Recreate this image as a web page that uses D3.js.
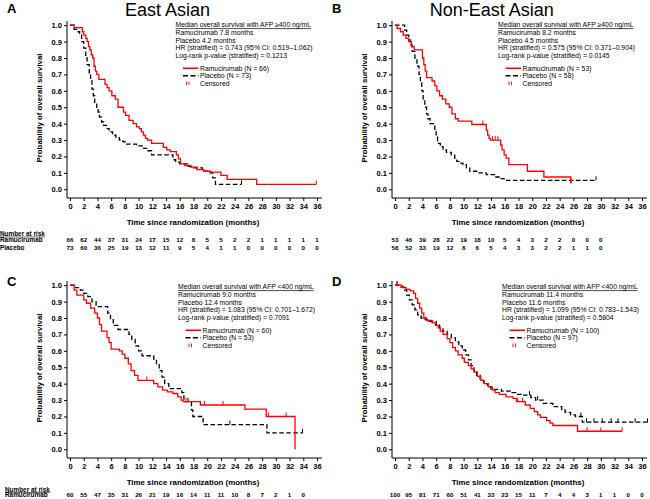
<!DOCTYPE html>
<html><head><meta charset="utf-8">
<script src="https://cdn.jsdelivr.net/npm/d3@7"></script>
<style>
html,body{margin:0;padding:0;background:#fff;}
svg{display:block;font-family:"Liberation Sans",Arial,sans-serif;}
</style></head>
<body>
<svg id="chart" width="650" height="499"></svg>
<script>
// ---------- data ----------
const xTickVals = [0,2,4,6,8,10,12,14,16,18,20,22,24,26,28,30,32,34,36];
const yTickVals = [0,0.1,0.2,0.3,0.4,0.5,0.6,0.7,0.8,0.9,1.0];

// Panel A: East Asian, AFP >=400
const aRamT = [0,0.6,1.8,2.0,2.3,2.5,2.7,2.9,3.1,3.3,3.5,3.7,3.9,4.2,5.1,5.4,5.7,6.1,6.6,7.0,7.8,8.1,8.6,9.2,9.7,10.1,10.4,10.7,11.0,11.3,11.9,13.6,14.1,14.6,15.5,15.8,16.1,16.7,17.6,18.5,19.5,20.5,22.0,22.9,27.2];
const aRamS = [1,0.985,0.96,0.94,0.92,0.90,0.87,0.85,0.82,0.80,0.75,0.72,0.70,0.67,0.64,0.62,0.60,0.57,0.55,0.50,0.47,0.45,0.42,0.40,0.38,0.37,0.35,0.33,0.31,0.30,0.28,0.255,0.24,0.23,0.21,0.185,0.155,0.145,0.135,0.12,0.11,0.105,0.085,0.06,0.03];
const aRamEnd = 35.9;
const aPlaT = [0,0.6,1.0,1.4,1.7,2.0,2.3,2.5,2.8,3.0,3.2,3.4,3.6,3.9,4.1,4.3,4.6,4.9,5.3,5.7,6.2,6.7,7.2,7.7,8.0,9.7,10.5,11.2,11.9,15.0,15.4,16.0,17.2,17.7,19.3,20.2,20.8,21.2];
const aPlaS = [1,0.975,0.96,0.94,0.90,0.86,0.80,0.76,0.71,0.66,0.61,0.57,0.53,0.50,0.47,0.44,0.41,0.39,0.37,0.35,0.33,0.315,0.30,0.29,0.275,0.265,0.25,0.235,0.21,0.18,0.165,0.155,0.14,0.13,0.11,0.10,0.07,0.03];
const aPlaEnd = 25.0;
const aRamCens = [35.9];
const aPlaCens = [25.0];
const aRamN = [66,62,44,37,31,24,17,15,12,8,5,5,2,2,1,1,1,1,1];
const aPlaN = [73,60,36,25,19,13,12,11,9,5,4,1,1,0,0,0,0,0,0];

// Panel B: Non-East Asian, AFP >=400
const bRamT = [0,0.3,0.8,1.2,1.6,2.0,2.4,2.8,4.0,4.2,4.4,4.6,5.4,5.8,6.1,6.5,6.9,7.4,7.9,8.3,8.8,9.2,11.2,13.3,13.5,13.7,13.9,15.4,15.6,15.9,16.2,16.6,19.3,21.7,25.6];
const bRamS = [1,0.98,0.96,0.94,0.92,0.90,0.87,0.85,0.80,0.76,0.72,0.68,0.66,0.63,0.60,0.57,0.55,0.52,0.50,0.46,0.43,0.415,0.395,0.36,0.33,0.31,0.30,0.27,0.24,0.21,0.19,0.15,0.11,0.075,0.04];
const bRamEnd = 25.7;
const bPlaT = [0,1.4,1.7,2.0,2.2,2.5,2.9,3.2,3.5,3.7,3.9,4.1,4.35,4.6,4.8,5.1,5.8,6.0,6.2,6.6,7.0,7.5,8.2,8.7,9.0,9.3,9.9,10.4,10.9,11.9,13.3,14.5,15.3,15.9];
const bPlaS = [1,0.97,0.94,0.91,0.88,0.84,0.80,0.75,0.70,0.65,0.60,0.55,0.50,0.46,0.43,0.40,0.36,0.32,0.28,0.26,0.24,0.225,0.21,0.19,0.17,0.16,0.15,0.13,0.11,0.10,0.09,0.075,0.065,0.055];
const bPlaEnd = 29.3;
const bRamCens = [12.8,14.2,14.6,15.0,25.7];
const bPlaCens = [29.3];
const bRamN = [53,46,39,28,22,19,18,10,5,4,3,2,2,0,0,0];
const bPlaN = [58,52,33,19,12,8,6,5,4,3,3,2,2,1,1,0];

// Panel C: East Asian, AFP <400
const cRamT = [0,0.6,1.0,2.0,2.4,3.0,3.6,4.0,4.3,4.6,5.4,5.7,6.0,7.2,7.6,8.0,8.5,8.9,9.4,9.9,12.2,12.8,13.5,14.2,15.0,15.7,16.2,16.5,19.0,25.5,28.6,32.8];
const cRamS = [1,0.97,0.94,0.91,0.89,0.86,0.83,0.80,0.76,0.72,0.68,0.65,0.61,0.60,0.58,0.555,0.52,0.48,0.45,0.42,0.40,0.38,0.36,0.35,0.34,0.32,0.30,0.29,0.27,0.245,0.20,0.0];
const cRamEnd = 32.8;
const cPlaT = [0,0.8,1.5,2.0,2.6,3.2,3.8,5.5,5.9,6.3,7.0,8.6,9.0,9.5,10.0,10.5,12.2,12.6,13.0,13.4,13.8,14.4,16.3,16.6,17.7,17.9,19.4,28.7];
const cPlaS = [1,0.985,0.97,0.95,0.93,0.90,0.87,0.83,0.79,0.755,0.73,0.70,0.67,0.63,0.60,0.57,0.55,0.52,0.48,0.44,0.40,0.37,0.345,0.29,0.24,0.20,0.15,0.10];
const cPlaEnd = 33.9;
const cRamCens = [11.2,16.9,19.6,22.3,28.9,31.5];
const cPlaCens = [17.2,23.3,33.9];
const cRamN = [60,55,47,35,31,26,21,19,16,14,11,11,10,8,7,2,1,0];

// Panel D: Non-East Asian, AFP <400
const dRamT = [0,1.0,1.6,2.2,2.7,3.0,3.3,3.6,3.9,4.2,4.6,5.4,5.9,6.3,6.6,7.0,7.6,8.0,8.4,8.8,9.2,9.8,10.1,10.7,11.1,11.5,12.0,12.5,13.0,13.6,14.2,14.6,15.2,16.2,17.2,17.7,19.0,19.7,20.3,20.8,21.2,22.1,22.6,23.0,26.6];
const dRamS = [1,0.985,0.975,0.965,0.95,0.92,0.89,0.86,0.83,0.80,0.785,0.77,0.755,0.74,0.72,0.70,0.675,0.65,0.62,0.60,0.575,0.555,0.53,0.51,0.49,0.47,0.445,0.42,0.40,0.38,0.36,0.345,0.335,0.32,0.31,0.29,0.27,0.25,0.23,0.21,0.195,0.175,0.16,0.145,0.11];
const dRamEnd = 33.1;
const dPlaT = [0,0.8,1.3,1.7,2.1,2.5,2.9,3.3,3.8,4.4,5.0,6.0,6.5,7.0,7.6,8.2,8.8,9.3,9.8,10.3,10.7,11.1,11.5,11.9,12.4,12.9,13.5,14.0,15.5,16.8,17.6,18.4,19.8,20.5,21.6,23.0,24.3,24.8,25.6,26.3,27.3];
const dPlaS = [1,0.99,0.97,0.94,0.91,0.88,0.85,0.82,0.80,0.79,0.78,0.76,0.74,0.72,0.70,0.68,0.655,0.63,0.605,0.575,0.545,0.51,0.48,0.45,0.42,0.40,0.38,0.365,0.355,0.345,0.335,0.33,0.315,0.30,0.28,0.26,0.24,0.225,0.21,0.20,0.165];
const dPlaEnd = 36.8;
const dRamCens = [0.3,17.9,18.6,28.0,30.0,33.1];
const dPlaCens = [0.3,19.6,20.8,27.1,27.9,29.0,30.2,31.5,32.5,35.0,36.8];
const dRamN = [100,95,81,71,60,51,41,33,23,15,11,7,4,4,3,1,1,0,0];

const titles = ["East Asian","Non-East Asian"];
const letters = ["A","B","C","D"];
const legendHeaders = ["Median overall survival with AFP \u2265400  ng/mL","Median overall survival with AFP \u2265400  ng/mL","Median overall survival with AFP <400  ng/mL","Median overall survival with AFP <400  ng/mL"];
const legendLines = [
  ["Ramucirumab  7.8 months","Placebo  4.2 months","HR (stratified) = 0.743  (95% CI: 0.519\u20131.062)","Log-rank p-value (stratified) = 0.1213"],
  ["Ramucirumab  8.2 months","Placebo  4.5 months","HR (stratified) = 0.575  (95% CI: 0.371\u20130.904)","Log-rank p-value (stratified) = 0.0145"],
  ["Ramucirumab  9.0 months","Placebo  12.4 months","HR (stratified) = 1.083  (95% CI: 0.701\u20131.672)","Log-rank p-value (stratified) = 0.7091"],
  ["Ramucirumab  11.4 months","Placebo  11.6 months","HR (stratified) = 1.099  (95% CI: 0.783\u20131.543)","Log-rank p-value (stratified) = 0.5804"]
];
const seriesLabels = [
  ["Ramucirumab  (N = 66)","Placebo  (N = 73)"],
  ["Ramucirumab  (N = 53)","Placebo  (N = 58)"],
  ["Ramucirumab  (N = 60)","Placebo  (N = 53)"],
  ["Ramucirumab  (N = 100)","Placebo  (N = 97)"]
];
const censoredLabel = "Censored";
const xTitle = "Time since randomization (months)";
const yTitle = "Probability of overall survival";
const riskTitle = "Number at risk";
const riskRowLabels = ["Ramucirumab","Placebo"];

// ---------- layout (positions / styles) ----------
const RED = "#ff0000";
const FONT = "'Liberation Sans', Arial, sans-serif";
const layout = [
  {ox:0,   oy:0,   legX:175.5, legY:25, title:true,  rowLabels:true,  riskLabelX:0, riskTitleY:236.0, riskRowY:242.4},
  {ox:325, oy:0,   legX:173,   legY:25, title:true,  rowLabels:false, riskLabelX:0, riskTitleY:236.0, riskRowY:242.4},
  {ox:0,   oy:260, legX:178,   legY:27, title:false, rowLabels:true,  riskLabelX:5, riskTitleY:231.6, riskRowY:237.2},
  {ox:325, oy:260, legX:177,   legY:27, title:false, rowLabels:false, riskLabelX:5, riskTitleY:231.6, riskRowY:237.2}
];
const panelData = [
  {ram:[aRamT,aRamS,aRamEnd,aRamCens], pla:[aPlaT,aPlaS,aPlaEnd,aPlaCens], risk:[aRamN,aPlaN]},
  {ram:[bRamT,bRamS,bRamEnd,bRamCens], pla:[bPlaT,bPlaS,bPlaEnd,bPlaCens], risk:[bRamN,bPlaN]},
  {ram:[cRamT,cRamS,cRamEnd,cRamCens], pla:[cPlaT,cPlaS,cPlaEnd,cPlaCens], risk:[cRamN]},
  {ram:[dRamT,dRamS,dRamEnd,dRamCens], pla:[dPlaT,dPlaS,dPlaEnd,dPlaCens], risk:[dRamN]}
];

const svg = d3.select("#chart");
const x = d3.scaleLinear().domain([0,36]).range([70,317]);
const y = d3.scaleLinear().domain([0,1]).range([189.3,25.2]);
const stepLine = d3.line().x(d=>x(d[0])).y(d=>y(d[1])).curve(d3.curveStepAfter);

function survAt(T,S,t){ const i = d3.bisectRight(T,t)-1; return S[Math.max(0,i)]; }

layout.forEach((L,pi)=>{
  const g = svg.append("g").attr("transform",`translate(${L.ox},${L.oy})`);
  const D = panelData[pi];

  // panel letter
  g.append("text").attr("x",7).attr("y", L.title ? 12.9 : 25.7)
    .attr("font-family",FONT).attr("font-weight","bold").attr("font-size",13).text(letters[pi]);
  if (L.title) {
    g.append("text").attr("x", pi===0 ? 167.5 : 166.7).attr("y",16.4).attr("text-anchor","middle")
      .attr("font-family",FONT).attr("font-size",18).text(titles[pi]);
  }

  // y axis
  const ya = g.append("g").attr("transform","translate(67,0)")
    .call(d3.axisLeft(y).tickValues(yTickVals).tickFormat(d3.format(".1f")).tickSize(3).tickPadding(2));
  ya.select(".domain").remove();
  ya.selectAll("text").attr("font-family",FONT).attr("font-weight","bold").attr("font-size",7.5).attr("fill","#000");
  ya.selectAll("line").attr("stroke","#000");
  g.append("line").attr("x1",67).attr("x2",67).attr("y1",21).attr("y2",198).attr("stroke","#000").attr("stroke-width",1);

  // x axis
  const xa = g.append("g").attr("transform","translate(0,198)")
    .call(d3.axisBottom(x).tickValues(xTickVals).tickFormat(d3.format("d")).tickSize(3).tickPadding(3));
  xa.select(".domain").remove();
  xa.selectAll("text").attr("font-family",FONT).attr("font-weight","bold").attr("font-size",7.5).attr("fill","#000");
  xa.selectAll("line").attr("stroke","#000");
  g.append("line").attr("x1",67).attr("x2",322).attr("y1",198).attr("y2",198).attr("stroke","#000").attr("stroke-width",1);

  // axis titles
  g.append("text").attr("x",193).attr("y",225).attr("text-anchor","middle")
    .attr("font-family",FONT).attr("font-weight","bold").attr("font-size",7.9).text(xTitle);
  g.append("text").attr("transform","translate(41.5,108) rotate(-90)").attr("text-anchor","middle")
    .attr("font-family",FONT).attr("font-weight","bold").attr("font-size",7.8).text(yTitle);

  // curves
  const series = [
    {d:D.pla, color:"#000", dash:"4.5,2.5"},
    {d:D.ram, color:RED, dash:null}
  ];
  series.forEach(s=>{
    const [T,S,end,cens] = s.d;
    const pts = T.map((t,i)=>[t,S[i]]);
    pts.push([end,S[S.length-1]]);
    g.append("path").attr("d",stepLine(pts)).attr("fill","none")
      .attr("stroke",s.color).attr("stroke-width",1.3)
      .attr("stroke-dasharray",s.dash);
    g.selectAll(null).data(cens).enter().append("line")
      .attr("x1",t=>x(t)).attr("x2",t=>x(t))
      .attr("y1",t=>y(survAt(T,S,t))).attr("y2",t=>y(survAt(T,S,t))-4)
      .attr("stroke",s.color).attr("stroke-width",1);
  });

  // legend block
  const lx = L.legX, ly = L.legY, step = 7.65;
  const hdr = g.append("text").attr("x",lx).attr("y",ly+2.4)
    .attr("font-family",FONT).attr("font-size",6.8).text(legendHeaders[pi]);
  const hw = hdr.node().getComputedTextLength();
  g.append("line").attr("x1",lx).attr("x2",lx+hw).attr("y1",ly+3.6).attr("y2",ly+3.6).attr("stroke","#000").attr("stroke-width",0.7);
  legendLines[pi].forEach((t,i)=>{
    g.append("text").attr("x",lx).attr("y",ly+2.4+step*(i+1))
      .attr("font-family",FONT).attr("font-size",6.8).text(t);
  });
  const ey = [ly+43.3, ly+50.7, ly+58.3];
  g.append("line").attr("x1",lx+7.5).attr("x2",lx+23).attr("y1",ey[0]).attr("y2",ey[0]).attr("stroke",RED).attr("stroke-width",1.6);
  g.append("line").attr("x1",lx+7.5).attr("x2",lx+23).attr("y1",ey[1]).attr("y2",ey[1]).attr("stroke","#000").attr("stroke-width",1.6).attr("stroke-dasharray","5,2.5");
  [lx+11,lx+13.5].forEach(cx=>{
    g.append("line").attr("x1",cx).attr("x2",cx).attr("y1",ey[2]-1.8).attr("y2",ey[2]+1.8).attr("stroke",RED).attr("stroke-width",0.9);
  });
  [seriesLabels[pi][0],seriesLabels[pi][1],censoredLabel].forEach((t,i)=>{
    g.append("text").attr("x",lx+24.5).attr("y",ey[i]+2.4)
      .attr("font-family",FONT).attr("font-size",6.8).text(t);
  });

  // number at risk
  if (L.rowLabels) {
    const rt = g.append("text").attr("x",L.riskLabelX).attr("y",L.riskTitleY)
      .attr("font-family",FONT).attr("font-weight","bold").attr("font-size",6.4).text(riskTitle);
    const rw = rt.node().getComputedTextLength();
    g.append("line").attr("x1",L.riskLabelX).attr("x2",L.riskLabelX+rw).attr("y1",L.riskTitleY+1).attr("y2",L.riskTitleY+1).attr("stroke","#000").attr("stroke-width",0.6);
  }
  D.risk.forEach((arr,ri)=>{
    const yy = L.riskRowY + ri*7.2;
    if (L.rowLabels) {
      g.append("text").attr("x",L.riskLabelX).attr("y",yy)
        .attr("font-family",FONT).attr("font-weight","bold").attr("font-size",6.4).text(riskRowLabels[ri]);
    }
    g.selectAll(null).data(arr).enter().append("text")
      .attr("x",(v,i)=>x(xTickVals[i])).attr("y",yy).attr("text-anchor","middle")
      .attr("font-family",FONT).attr("font-weight","bold").attr("font-size",6.2).text(v=>v);
  });
});
</script>
</body></html>
